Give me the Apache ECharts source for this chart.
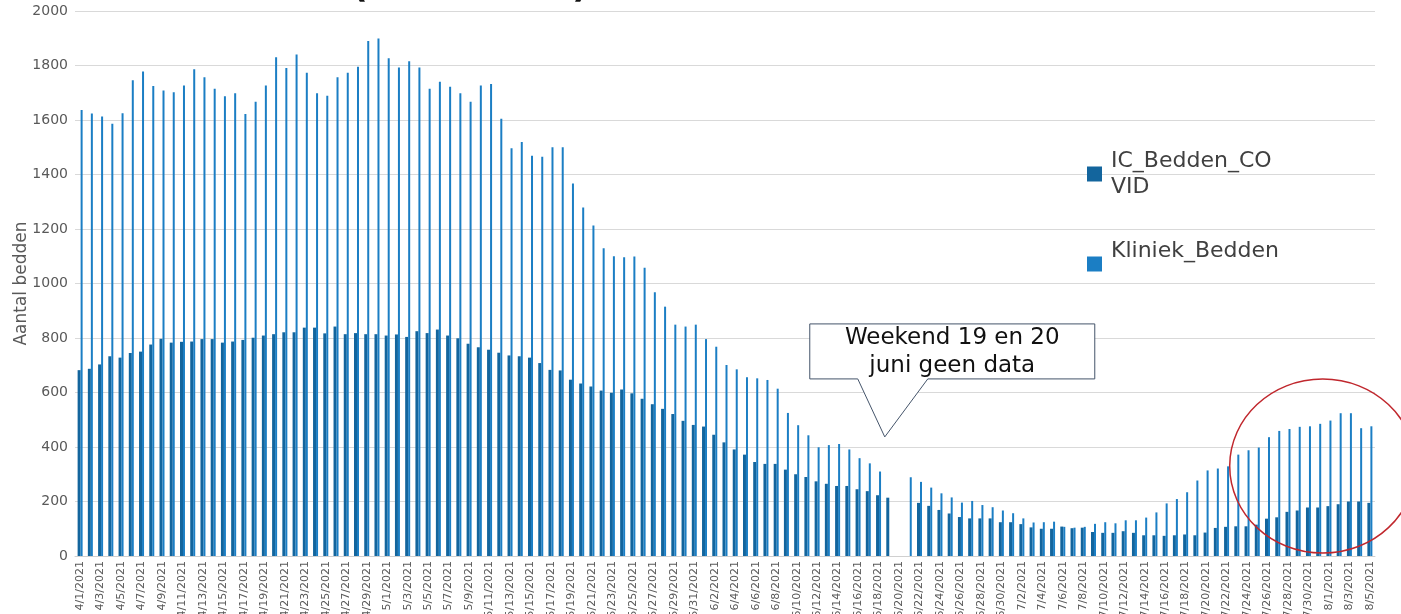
<!DOCTYPE html>
<html>
<head>
<meta charset="utf-8">
<script src="https://cdn.jsdelivr.net/npm/echarts@6/dist/echarts.min.js"></script>
<style>
  html, body { margin: 0; padding: 0; background: #fff; }
  #chart { width: 1401px; height: 614px; }
</style>
</head>
<body>
<div id="chart"></div>
<script>
// dagen 1 april t/m 5 augustus 2021
const dates = []
const start = new Date(2021, 3, 1)
for (let i = 0; i < 127; i++) {
  const d = new Date(start.getFullYear(), start.getMonth(), start.getDate() + i)
  dates.push((d.getMonth() + 1) + '/' + d.getDate() + '/2021')
}

const icBedden = [
  682, 687, 703, 733, 728, 745, 750, 776, 797, 783, 786, 787, 796, 796, 783, 787,
  793, 801, 809, 814, 821, 821, 838, 838, 817, 842, 814, 818, 814, 814, 809, 813,
  804, 825, 818, 831, 809, 799, 779, 766, 757, 746, 736, 733, 728, 708, 683, 681,
  647, 633, 622, 607, 599, 611, 597, 577, 557, 540, 521, 496, 481, 475, 445, 417,
  391, 372, 345, 338, 338, 317, 300, 290, 274, 265, 257, 257, 245, 238, 223, 214,
  null, null,
  195, 184, 169, 156, 143, 138, 138, 138, 124, 124, 117, 105, 100,
  100, 108, 102, 104, 88, 85, 85, 91, 85, 76, 76, 74, 76, 79, 76, 86,
  103, 107, 109, 109, 115, 137, 142, 162, 167, 178, 178, 183, 190, 200, 200, 195
]

const kliniekBedden = [
  1637, 1624, 1613, 1586, 1625, 1746, 1778, 1725, 1708, 1702, 1727, 1786, 1757, 1715, 1687, 1698,
  1622, 1667, 1727, 1830, 1791, 1840, 1773, 1698, 1689, 1757, 1773, 1795, 1890, 1899, 1827, 1793,
  1816, 1793, 1715, 1740, 1722, 1698, 1667, 1727, 1732, 1605, 1496, 1519, 1469, 1465, 1500, 1500,
  1367, 1279, 1213, 1129, 1100, 1096, 1099, 1058, 968, 915, 849, 842, 849, 796, 768, 701,
  685, 656, 652, 646, 614, 525, 480, 443, 399, 407, 411, 391, 359, 340, 310,
  null, null,
  289, 272, 251, 230, 215, 196, 202, 187, 179, 167, 157, 138, 123, 124,
  126, 107, 104, 107, 118, 124, 120, 131, 131, 141, 160, 193, 209, 234, 277, 314,
  321, 329, 372, 388, 398, 436, 459, 466, 474, 476, 485, 497, 524, 524, 469, 476
]

const yTicks = [0, 200, 400, 600, 800, 1000, 1200, 1400, 1600, 1800, 2000]

const font = 'DejaVu Sans'
const chart = echarts.init(document.getElementById('chart'))

chart.setOption({
  animation: false,
  textStyle: { fontFamily: font },
  grid: { left: 75, right: 26, top: 11, bottom: 58, containLabel: false, outerBoundsMode: 'none' },
  legend: [{
    data: ['IC_Bedden_COVID'],
    left: 1087, top: 148, padding: 0,
    itemWidth: 15, itemHeight: 15,
    icon: 'rect',
    selectedMode: false,
    formatter: () => 'IC_Bedden_CO\nVID',
    textStyle: { fontFamily: font, fontSize: 22, lineHeight: 26, color: '#404040', padding: [0, 0, 0, 4] }
  }, {
    data: ['Kliniek_Bedden'],
    left: 1087, top: 238, padding: 0,
    itemWidth: 15, itemHeight: 15,
    icon: 'rect',
    selectedMode: false,
    formatter: name => name + '\n ',
    textStyle: { fontFamily: font, fontSize: 22, lineHeight: 26, color: '#404040', padding: [0, 0, 0, 4] }
  }],
  xAxis: {
    type: 'category',
    data: dates,
    axisTick: { show: false },
    axisLine: { lineStyle: { color: '#d0d0d0' } },
    axisLabel: {
      interval: 1,
      rotate: 90,
      margin: 5,
      fontFamily: font,
      fontSize: 11,
      color: '#595959'
    }
  },
  yAxis: {
    type: 'value',
    min: yTicks[0],
    max: yTicks[yTicks.length - 1],
    interval: 200,
    name: 'Aantal bedden',
    nameLocation: 'middle',
    nameGap: 45,
    nameMoveOverlap: false,
    nameTextStyle: { fontFamily: font, fontSize: 17, color: '#595959' },
    axisLine: { show: false },
    axisTick: { show: false },
    axisLabel: {
      fontFamily: font, fontSize: 14, color: '#595959', margin: 7,
      formatter: v => String(v)
    },
    splitLine: { lineStyle: { color: '#d9d9d9', width: 1 } }
  },
  series: [{
    name: 'IC_Bedden_COVID',
    type: 'bar',
    data: icBedden,
    barWidth: 3,
    barGap: '0%',
    itemStyle: { color: '#13659d' }
  }, {
    name: 'Kliniek_Bedden',
    type: 'bar',
    data: kliniekBedden,
    barWidth: 2,
    barGap: '0%',
    itemStyle: { color: '#1b7ec4' }
  }]
})

// toelichting: tekstballon, rode cirkel en (afgesneden) titel
const tip = chart.convertToPixel({ xAxisIndex: 0, yAxisIndex: 0 }, ['6/19/2021', 437])
const tx = tip[0] - 4, ty = tip[1]
const boxL = tx - 75, boxR = tx + 210, boxT = ty - 113, boxB = ty - 58
const ring = chart.convertToPixel({ xAxisIndex: 0, yAxisIndex: 0 }, ['7/31/2021', 330])

chart.setOption({
  graphic: [{
    type: 'text',
    x: 28,
    y: -12,
    style: {
      text: 'Bezette bedden (Nederland)',
      fontFamily: font, fontSize: 35, fontWeight: 'bold',
      fill: '#111', align: 'left', verticalAlign: 'middle'
    },
    z: 50
  }, {
    type: 'polygon',
    shape: {
      points: [[boxL, boxT], [boxR, boxT], [boxR, boxB], [tx + 43, boxB], [tx, ty], [tx - 27, boxB], [boxL, boxB]]
    },
    style: { fill: '#fff', stroke: '#44546a', lineWidth: 1 },
    z: 100
  }, {
    type: 'text',
    x: (boxL + boxR) / 2,
    y: boxT + 28,
    style: {
      text: 'Weekend 19 en 20\njuni geen data',
      fontFamily: font, fontSize: 23, lineHeight: 28,
      fill: '#111', align: 'center', verticalAlign: 'middle'
    },
    z: 101
  }, {
    type: 'ellipse',
    shape: { cx: ring[0] + 4, cy: ring[1], rx: 93, ry: 87 },
    style: { fill: 'none', stroke: '#c0272d', lineWidth: 1.5 },
    z: 100
  }]
})
</script>
</body>
</html>
